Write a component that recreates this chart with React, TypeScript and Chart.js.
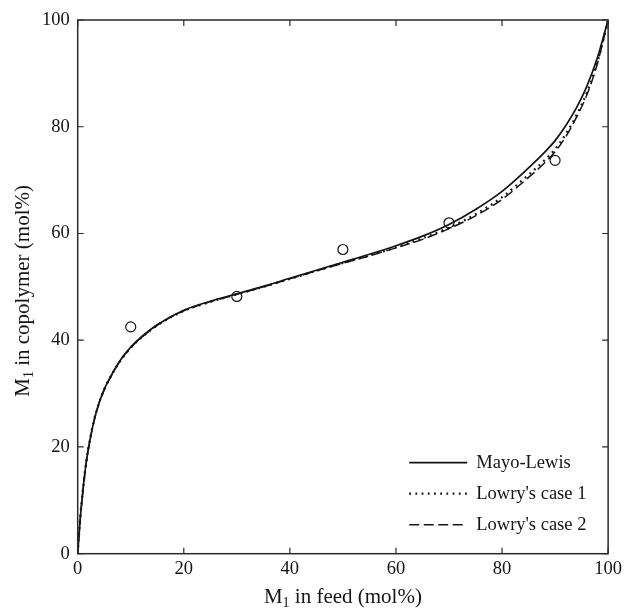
import React, { useEffect, useRef } from "react";
import { Chart, registerables } from "chart.js";

Chart.register(...registerables);

// ---- data ----
const feedX = [0, 0.25, 0.5, 1, 1.5, 2, 3, 4, 5, 6, 8, 10, 12, 15, 20, 25, 30, 35, 40, 45, 50, 55, 60, 65, 70, 75, 80, 85, 88, 90, 92, 94, 96, 98, 100];
const mayoLewis = [0, 3.5, 6.8, 12, 16.3, 19.6, 24.6, 28.2, 30.8, 32.8, 36.2, 38.7, 40.6, 42.9, 45.6, 47.3, 48.7, 50.1, 51.6, 53.1, 54.6, 56.1, 57.7, 59.5, 61.7, 64.5, 67.9, 72.3, 75.2, 77.4, 80.2, 83.5, 87.6, 93.0, 100];
const lowryCase1 = [0, 3.6, 6.9, 12.1, 16.4, 19.7, 24.7, 28.2, 30.8, 32.8, 36.1, 38.6, 40.5, 42.8, 45.5, 47.2, 48.6, 50.0, 51.5, 53.0, 54.5, 55.9, 57.4, 59.1, 61.1, 63.6, 66.8, 71.0, 73.7, 75.8, 78.6, 82.1, 86.4, 92.2, 100];
const lowryCase2 = [0, 3.4, 6.7, 11.9, 16.2, 19.5, 24.5, 28.1, 30.7, 32.7, 36.1, 38.6, 40.5, 42.8, 45.5, 47.2, 48.6, 50.0, 51.5, 53.0, 54.4, 55.8, 57.3, 58.9, 60.9, 63.3, 66.4, 70.5, 73.2, 75.3, 78.1, 81.7, 86.0, 91.9, 100];
const expFeed = [10, 30, 50, 70, 90];
const expCopolymer = [42.5, 48.2, 57.0, 62.0, 73.7];
const tickValues = [0, 20, 40, 60, 80, 100];
const seriesLabels = ["Mayo-Lewis", "Lowry's case 1", "Lowry's case 2"];
const titleMain = "M";
const titleSub = "1";
const xTitleRest = " in feed (mol%)";
const yTitleRest = " in copolymer (mol%)";

const SERIF = "'Liberation Serif', 'Times New Roman', serif";
const INK = "#141414";

const toPoints = (xs: number[], ys: number[]) => xs.map((x, i) => ({ x, y: ys[i] }));

const framePlugin = {
  id: "frameAndTitles",
  afterDatasetsDraw(chart: any) {
    const { ctx, chartArea: a, scales } = chart;
    const xs = scales.x;
    const ys = scales.y;
    ctx.save();
    ctx.strokeStyle = "#2a2a2a";
    ctx.lineWidth = 1.5;
    ctx.strokeRect(a.left, a.top, a.right - a.left, a.bottom - a.top);
    const tl = 6;
    ctx.lineWidth = 1.2;
    ctx.beginPath();
    for (const v of tickValues) {
      const px = xs.getPixelForValue(v);
      ctx.moveTo(px, a.bottom);
      ctx.lineTo(px, a.bottom - tl);
      ctx.moveTo(px, a.top);
      ctx.lineTo(px, a.top + tl);
      const py = ys.getPixelForValue(v);
      ctx.moveTo(a.left, py);
      ctx.lineTo(a.left + tl, py);
      ctx.moveTo(a.right, py);
      ctx.lineTo(a.right - tl, py);
    }
    ctx.stroke();

    // legend (inside plot, bottom right)
    const ds = chart.data.datasets;
    const lx0 = a.left + (a.right - a.left) * 0.625;
    const lx1 = lx0 + 58;
    const rowY = (i: number) => a.bottom - 91 + i * 31;
    ctx.font = `18.5px ${SERIF}`;
    ctx.fillStyle = INK;
    ctx.textBaseline = "middle";
    ctx.textAlign = "left";
    for (const i of [0, 1, 2]) {
      const d = ds[i];
      const y = rowY(i);
      ctx.beginPath();
      ctx.setLineDash(d.borderDash || []);
      ctx.lineWidth = d.borderWidth;
      ctx.strokeStyle = d.borderColor;
      ctx.moveTo(lx0, y);
      ctx.lineTo(lx1, y);
      ctx.stroke();
      ctx.setLineDash([]);
      ctx.fillText(d.label, lx1 + 9, y);
    }

    // axis titles with subscript
    const drawRich = (rest: string, cx: number, baseY: number) => {
      ctx.font = `21px ${SERIF}`;
      const wM = ctx.measureText(titleMain).width;
      const wR = ctx.measureText(rest).width;
      ctx.font = `14px ${SERIF}`;
      const wS = ctx.measureText(titleSub).width;
      const total = wM + wS + wR;
      let x = cx - total / 2;
      ctx.textAlign = "left";
      ctx.textBaseline = "alphabetic";
      ctx.fillStyle = INK;
      ctx.font = `21px ${SERIF}`;
      ctx.fillText(titleMain, x, baseY);
      x += wM;
      ctx.font = `14px ${SERIF}`;
      ctx.fillText(titleSub, x, baseY + 4);
      x += wS;
      ctx.font = `21px ${SERIF}`;
      ctx.fillText(rest, x, baseY);
    };
    drawRich(xTitleRest, (a.left + a.right) / 2, 603);
    ctx.save();
    ctx.translate(29, (a.top + a.bottom) / 2 + 4);
    ctx.rotate(-Math.PI / 2);
    drawRich(yTitleRest, 0, 0);
    ctx.restore();
    ctx.restore();
  },
};

export default function App() {
  const ref = useRef<HTMLCanvasElement | null>(null);
  useEffect(() => {
    if (!ref.current) return;
    const chart = new Chart(ref.current, {
      type: "scatter",
      data: {
        datasets: [
          {
            label: seriesLabels[0],
            data: toPoints(feedX, mayoLewis),
            showLine: true,
            borderColor: INK,
            borderWidth: 1.7,
            pointRadius: 0,
            cubicInterpolationMode: "monotone",
          },
          {
            label: seriesLabels[1],
            data: toPoints(feedX, lowryCase1),
            showLine: true,
            borderColor: INK,
            borderWidth: 2.3,
            borderDash: [1.8, 4.4],
            pointRadius: 0,
            cubicInterpolationMode: "monotone",
          },
          {
            label: seriesLabels[2],
            data: toPoints(feedX, lowryCase2),
            showLine: true,
            borderColor: INK,
            borderWidth: 1.5,
            borderDash: [10, 4.5],
            pointRadius: 0,
            cubicInterpolationMode: "monotone",
          },
          {
            label: "experimental",
            data: toPoints(expFeed, expCopolymer),
            showLine: false,
            pointRadius: 5,
            pointBorderWidth: 1.2,
            borderColor: INK,
            backgroundColor: "rgba(0,0,0,0)",
            pointBackgroundColor: "rgba(0,0,0,0)",
          },
        ],
      },
      options: {
        animation: false,
        responsive: false,
        devicePixelRatio: 1,
        layout: { padding: { top: 20, right: 15.5, left: 0, bottom: 0 } },
        plugins: { legend: { display: false }, tooltip: { enabled: false } },
        scales: {
          x: {
            type: "linear",
            min: 0,
            max: 100,
            afterBuildTicks: (s: any) => {
              s.ticks = tickValues.map((v) => ({ value: v }));
            },
            afterFit: (s: any) => {
              s.height = 54.3;
            },
            grid: { display: false, drawTicks: false },
            border: { display: false },
            ticks: { padding: 4, color: INK, font: { family: SERIF, size: 18.5 }, maxRotation: 0 },
          },
          y: {
            type: "linear",
            min: 0,
            max: 100,
            afterBuildTicks: (s: any) => {
              s.ticks = tickValues.map((v) => ({ value: v }));
            },
            afterFit: (s: any) => {
              s.width = 77.7;
            },
            grid: { display: false, drawTicks: false },
            border: { display: false },
            ticks: { padding: 8, color: INK, font: { family: SERIF, size: 18.5 } },
          },
        },
      },
      plugins: [framePlugin],
    });
    return () => chart.destroy();
  }, []);
  return (
    <div style={{ position: "fixed", left: 0, top: 0, width: 626, height: 608, background: "#fff" }}>
      <canvas ref={ref} width={626} height={608} />
    </div>
  );
}
